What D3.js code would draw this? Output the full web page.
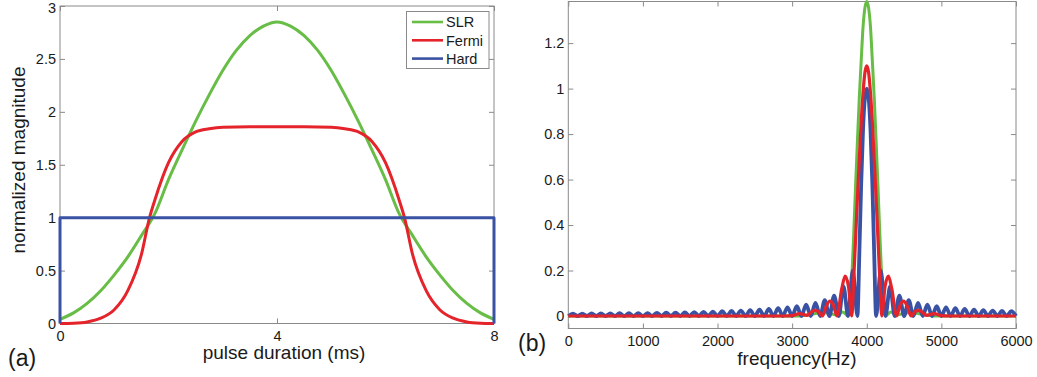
<!DOCTYPE html>
<html>
<head>
<meta charset="utf-8">
<script src="https://cdn.jsdelivr.net/npm/d3@7"></script>
<style>
  html, body { margin: 0; padding: 0; background: #fff; }
  svg { display: block; font-family: "Liberation Sans", Arial, sans-serif; }
  .tick text { fill: #1a1a1a; font-size: 14.5px; }
</style>
</head>
<body>
<svg id="chart" width="1037" height="377"></svg>
<script>
// ---- panel (a): pulse shapes, time in ms ----
var seriesNames = ['SLR', 'Fermi', 'Hard']
var seriesColors = ['#67bd45', '#e5232a', '#3a52a3']

// half pulse, mirrored around 4 ms
var slrTime = [0, 0.25, 0.5, 0.75, 1, 1.25, 1.5, 1.75, 2, 2.25, 2.5, 2.75, 3, 3.25, 3.5, 3.75, 4]
var slrMag = [0.04, 0.10, 0.19, 0.31, 0.46, 0.63, 0.83, 1.04, 1.36, 1.64, 1.91, 2.16, 2.39, 2.58, 2.72, 2.81, 2.85]
var fermiTime = [0, 0.25, 0.5, 0.75, 1, 1.25, 1.5, 1.65, 1.75, 2, 2.25, 2.5, 2.75, 3, 3.5, 4]
var fermiMag = [0, 0.003, 0.015, 0.05, 0.13, 0.31, 0.65, 1.0, 1.17, 1.52, 1.72, 1.81, 1.84, 1.855, 1.86, 1.86]
var hardTime = [0, 0, 8, 8]
var hardMag = [0, 1, 1, 0]

var timeTicks = [0, 4, 8]
var magTicksA = [0, 0.5, 1, 1.5, 2, 2.5, 3]

// ---- panel (b): spectra, frequency in Hz ----
var centreHz = 4000
// half spectrum as offset from the centre frequency, mirrored
var slrOffset = [0, 25, 50, 75, 100, 125, 150, 175, 200, 225, 250, 320, 400, 500, 600, 700, 800, 900, 2000, 4000]
var slrSpec = [1.383, 1.355, 1.27, 1.12, 0.96, 0.77, 0.57, 0.36, 0.17, 0.04, 0, 0.018, 0.004, 0.012, 0.015, 0.01, 0.004, 0, 0, 0]
var fermiOffset = [0, 25, 50, 75, 100, 125, 150, 175, 200, 245, 290, 335, 400, 450, 495, 540, 595, 650, 700, 750, 800, 900, 1000, 1100, 2000, 4000]
var fermiSpec = [1.1, 1.07, 0.98, 0.85, 0.69, 0.52, 0.34, 0.16, 0, 0.13, 0.175, 0.12, 0, 0.05, 0.065, 0.045, 0, 0.02, 0.025, 0.015, 0.003, 0.01, 0.002, 0, 0, 0]
var hardOffset = [0, 25, 50, 75, 100, 125]
var hardSpec = [1.0, 0.96, 0.82, 0.58, 0.27, 0]
// side lobes of the hard pulse, each 125 Hz wide, from the centre outwards
var hardLobeHz = 125
var hardLobes = [0.2, 0.13, 0.09, 0.07, 0.058, 0.05, 0.043, 0.038, 0.034, 0.031, 0.028, 0.026, 0.024,
  0.022, 0.021, 0.019, 0.018, 0.017, 0.016, 0.015, 0.015, 0.014, 0.013, 0.013, 0.012, 0.012, 0.011,
  0.011, 0.011, 0.010, 0.010]

var freqTicks = [0, 1000, 2000, 3000, 4000, 5000, 6000]
var magTicksB = [0, 0.2, 0.4, 0.6, 0.8, 1, 1.2]

var svg = d3.select('#chart')
  , boxColor = '#8a8a8a'

var zip = function(xs, ys) { return xs.map(function(x, i) { return [x, ys[i]] }) }

var mirror = function(centre, offs, vals) {
  var left = offs.map(function(o, i) { return [centre - o, vals[i]] }).reverse()
    , right = offs.slice(1).map(function(o, i) { return [centre + o, vals[i + 1]] })
  return left.concat(right)
}

var hardSpectrum = function() {
  var pts = []
  for (var k = hardLobes.length; k >= 1; k--) {
    pts.push([centreHz - hardLobeHz * (k + 1), 0])
    pts.push([centreHz - hardLobeHz * (k + 0.5), hardLobes[k - 1]])
  }
  pts = pts.concat(mirror(centreHz, hardOffset, hardSpec))
  for (var j = 1; j <= hardLobes.length; j++) {
    pts.push([centreHz + hardLobeHz * (j + 0.5), hardLobes[j - 1]])
    pts.push([centreHz + hardLobeHz * (j + 1), 0])
  }
  return pts
}

var drawFrame = function(g, x, y, xTicks, yTicks, fmtX, fmtY, padX) {
  var r = x.range(), t = y.range()
  var style = function(a) {
    a.select('.domain').remove()
    a.selectAll('.tick line').attr('stroke', boxColor)
  }
  g.append('g').attr('transform', 'translate(0,' + t[0] + ')')
    .call(d3.axisBottom(x).tickValues(xTicks).tickSize(-5).tickPadding(padX).tickFormat(fmtX)).call(style)
  g.append('g').attr('transform', 'translate(0,' + t[1] + ')')
    .call(d3.axisTop(x).tickValues(xTicks).tickSize(-5).tickFormat('')).call(style)
  g.append('g').attr('class', 'yaxis').attr('transform', 'translate(' + r[0] + ',0)')
    .call(d3.axisLeft(y).tickValues(yTicks).tickSize(-5).tickPadding(4).tickFormat(fmtY)).call(style)
  g.append('g').attr('transform', 'translate(' + r[1] + ',0)')
    .call(d3.axisRight(y).tickValues(yTicks).tickSize(-5).tickFormat('')).call(style)
  g.append('rect')
    .attr('x', r[0]).attr('y', t[1])
    .attr('width', r[1] - r[0]).attr('height', t[0] - t[1])
    .attr('fill', 'none').attr('stroke', boxColor)
  g.selectAll('.tick text').attr('font-family', null).attr('font-size', null)
}

var drawLine = function(g, x, y, pts, color, width, curve) {
  g.append('path')
    .datum(pts)
    .attr('fill', 'none')
    .attr('stroke', color)
    .attr('stroke-width', width)
    .attr('stroke-linejoin', 'round')
    .attr('d', d3.line().x(function(d) { return x(d[0]) }).y(function(d) { return y(d[1]) }).curve(curve))
}

// panel (a)
var xa = d3.scaleLinear().domain([0, 8]).range([60, 494])
  , ya = d3.scaleLinear().domain([0, 3]).range([323.5, 6])
  , ga = svg.append('g')

drawFrame(ga, xa, ya, timeTicks, magTicksA, d3.format('d'), function(d) { return String(d) }, 7)
// top label sits against the window edge
ga.select('.yaxis').selectAll('.tick text').filter(function(d) { return d === 3 }).attr('dy', '0.42em')
drawLine(ga, xa, ya, mirror(4, slrTime.map(function(t) { return 4 - t }).reverse(), slrMag.slice().reverse()), seriesColors[0], 3, d3.curveMonotoneX)
drawLine(ga, xa, ya, mirror(4, fermiTime.map(function(t) { return 4 - t }).reverse(), fermiMag.slice().reverse()), seriesColors[1], 3, d3.curveMonotoneX)
drawLine(ga, xa, ya, zip(hardTime, hardMag), seriesColors[2], 3, d3.curveLinear)

// legend
var lg = ga.append('g')
lg.append('rect').attr('x', 406.5).attr('y', 11.5).attr('width', 82.5).attr('height', 57)
  .attr('fill', '#fff').attr('stroke', boxColor)
seriesNames.forEach(function(name, i) {
  var yy = 22 + i * 18.3
  lg.append('line').attr('x1', 412).attr('x2', 443).attr('y1', yy).attr('y2', yy)
    .attr('stroke', seriesColors[i]).attr('stroke-width', 2.6)
  lg.append('text').attr('x', 446).attr('y', yy + 5.2).attr('font-size', 14.5).attr('fill', '#1a1a1a').text(name)
})

ga.append('text').attr('x', 284).attr('y', 359).attr('text-anchor', 'middle')
  .attr('font-size', 19).attr('fill', '#1a1a1a').text('pulse duration (ms)')
ga.append('text').attr('transform', 'translate(25,160) rotate(-90)').attr('text-anchor', 'middle')
  .attr('font-size', 19).attr('fill', '#1a1a1a').text('normalized magnitude')
ga.append('text').attr('x', 8).attr('y', 366).attr('font-size', 23).attr('fill', '#1a1a1a').text('(a)')

// panel (b)
var xb = d3.scaleLinear().domain([0, 6000]).range([568.3, 1016])
  , yb = d3.scaleLinear().domain([-0.055, 1.383]).range([328.5, 1.5])
  , gb = svg.append('g')

var clip = function(pts) { return pts.filter(function(d) { return d[0] >= 0 && d[0] <= 6000 }) }

drawFrame(gb, xb, yb, freqTicks, magTicksB, d3.format('d'), function(d) { return String(d) }, 7)
drawLine(gb, xb, yb, clip(mirror(centreHz, slrOffset, slrSpec)), seriesColors[0], 3, d3.curveMonotoneX)
drawLine(gb, xb, yb, clip(hardSpectrum()), seriesColors[2], 3.8, d3.curveMonotoneX)
drawLine(gb, xb, yb, clip(mirror(centreHz, fermiOffset, fermiSpec)), seriesColors[1], 3.2, d3.curveMonotoneX)

gb.append('text').attr('x', 797).attr('y', 365).attr('text-anchor', 'middle')
  .attr('font-size', 19).attr('fill', '#1a1a1a').text('frequency(Hz)')
gb.append('text').attr('x', 518).attr('y', 351).attr('font-size', 23).attr('fill', '#1a1a1a').text('(b)')
</script>
</body>
</html>
